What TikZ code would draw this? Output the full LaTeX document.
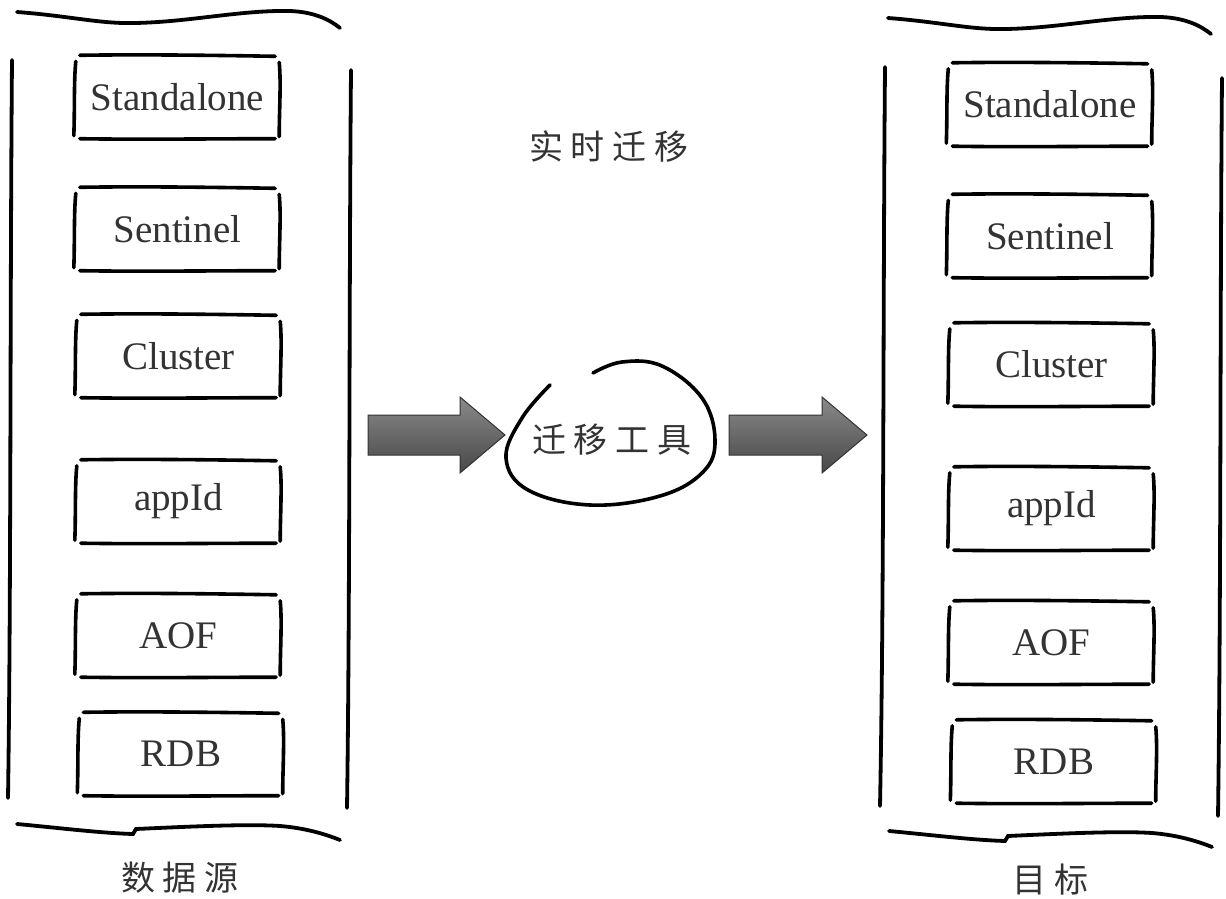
\documentclass[tikz,border=0pt]{standalone}
\usepackage{fontspec}
\setmainfont{Liberation Serif}
\newfontfamily\cjk{Noto Sans CJK SC}
\definecolor{txt}{HTML}{333333}
\definecolor{arrtop}{HTML}{8A8A8A}
\definecolor{arrbot}{HTML}{484848}
\newcommand\cjkgap{\hspace{8pt}}
\begin{document}
\begin{tikzpicture}[x=1pt,y=-1pt,
  sk/.style={line width=3.6pt,line cap=round,line join=round,black},
  br/.style={line width=3.8pt,line cap=round,black},
  bx/.style={minimum width=205pt,minimum height=83pt,inner sep=0pt,text=txt,font=\fontsize{39}{41}\selectfont},
  cjklabel/.style={text=txt,inner sep=0pt,font=\cjk\fontsize{34}{36}\selectfont},
  arr/.style={draw=black!80,line width=1pt,line join=miter,top color=arrtop,bottom color=arrbot}]
\useasboundingbox (0,0) rectangle (1226,899);
\fill[white] (0,0) rectangle (1226,899);

% ---- left bracket ----
\draw[br] (17,12) .. controls (70,16) and (100,24) .. (135,23) .. controls (190,22) and (240,10) .. (290,11) .. controls (315,12) and (330,20) .. (340,28);
\draw[br] (12,60) .. controls (10,300) and (11,600) .. (8,798);
\draw[br] (351,70) .. controls (349,300) and (350,600) .. (347,808);
\draw[br] (17,824) .. controls (60,828) and (100,833) .. (133,834) -- (136,829) .. controls (200,826) and (250,824) .. (280,826) .. controls (305,828) and (325,834) .. (340,840);

% ---- right bracket ----
\begin{scope}[shift={(871,6)}]
\draw[br] (17,12) .. controls (70,16) and (100,24) .. (135,23) .. controls (190,22) and (240,10) .. (290,11) .. controls (315,12) and (330,20) .. (340,28);
\end{scope}
\draw[br] (885,67) .. controls (883,300) and (884,600) .. (880,806);
\draw[br] (1222,78) .. controls (1220,300) and (1221,600) .. (1218,816);
\begin{scope}[shift={(872,7)}]
\draw[br] (17,824) .. controls (60,828) and (100,833) .. (133,834) -- (136,829) .. controls (200,826) and (250,824) .. (280,826) .. controls (305,828) and (325,834) .. (340,840);
\end{scope}

% ---- boxes ----
\node[bx] (l1) at (177.5,97) {Standalone};
\node[bx] (l2) at (177.5,229) {Sentinel};
\node[bx] (l3) at (178.5,356) {Cluster};
\node[bx] (l4) at (178.5,501.5) {appId};
\node[bx] (l5) at (178.5,635.5) {AOF};
\node[bx] (l6) at (181,754) {RDB};
\node[bx] (r1) at (1050,104.5) {Standalone};
\node[bx] (r2) at (1050,236) {Sentinel};
\node[bx] (r3) at (1051.5,364.5) {Cluster};
\node[bx] (r4) at (1051.5,508.5) {appId};
\node[bx] (r5) at (1051.5,642.5) {AOF};
\node[bx] (r6) at (1054,761.5) {RDB};

\foreach \n in {l1,l2,l3,l4,l5,l6,r1,r2,r3,r4,r5,r6}{
  \draw[sk] ([shift={(5,0)}]\n.north west) .. controls +(60,-1) and +(-60,-1) .. ([shift={(-5,1)}]\n.north east);
  \draw[sk] ([shift={(5,0)}]\n.south west) .. controls +(60,1) and +(-60,0) .. ([shift={(-5,0)}]\n.south east);
  \draw[sk] ([shift={(1,6)}]\n.north west) .. controls +(-2,20) and +(1,-25) .. ([shift={(-1,-3)}]\n.south west);
  \draw[sk] ([shift={(-1,7)}]\n.north east) .. controls +(2,20) and +(0,-25) .. ([shift={(-1,-2)}]\n.south east);
}

% ---- center ----
\node[cjklabel] (rt) at (609,147) {实\cjkgap 时\cjkgap 迁\cjkgap 移};
\node[cjklabel] (tool) at (612,440) {迁\cjkgap 移\cjkgap 工\cjkgap 具};
\draw[sk] plot[smooth,tension=0.65] coordinates {(550,385) (522,418) (506,458) (528,490) (590,505) (660,496) (703,472) (715,440) (702,398) (662,366) (622,362) (593,373)};

\draw[arr] (368,415) -- (460,415) -- (460,397) -- (505,435) -- (460,473) -- (460,455) -- (368,455) -- cycle;
\draw[arr] (729,415) -- (822,415) -- (822,397) -- (867,435) -- (822,473) -- (822,455) -- (729,455) -- cycle;

% ---- bottom labels ----
\node[cjklabel] (src) at (180,878) {数\cjkgap 据\cjkgap 源};
\node[cjklabel] (dst) at (1050,880) {目\cjkgap 标};
\end{tikzpicture}
\end{document}
